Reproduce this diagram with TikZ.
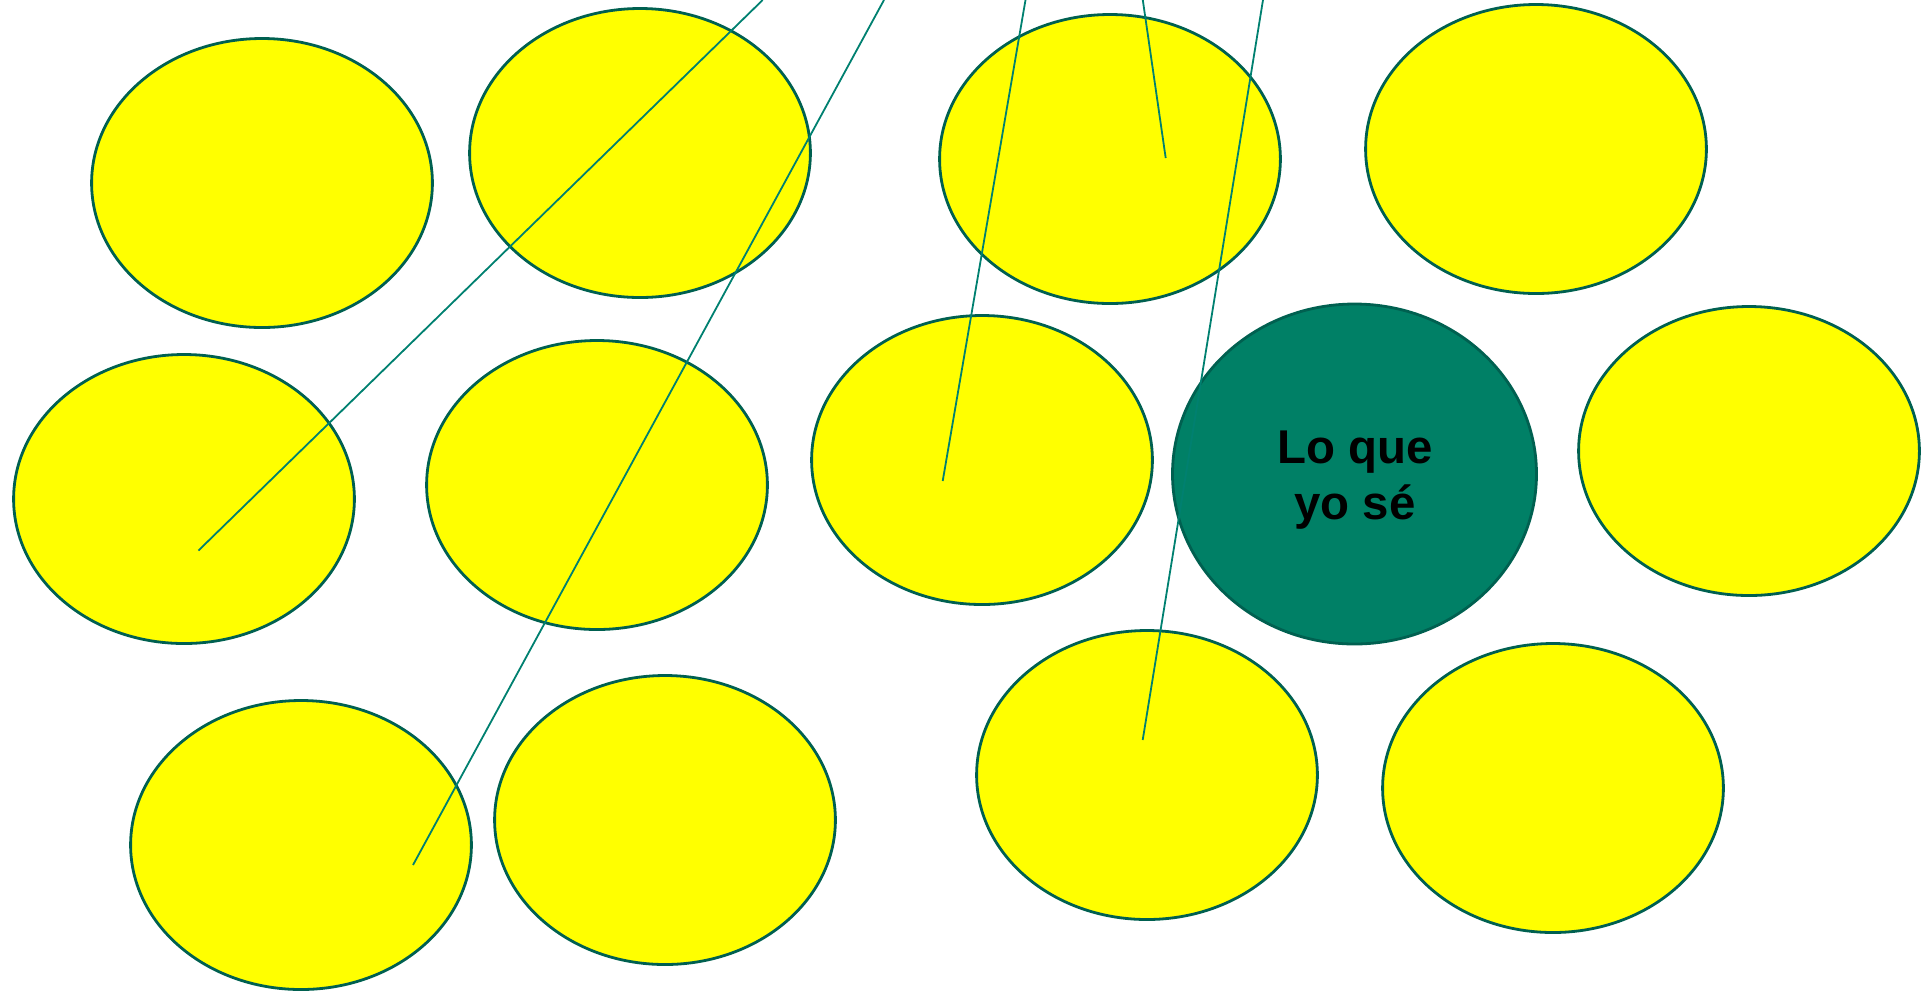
\documentclass[tikz,border=0pt]{standalone}
\usepackage{fontspec}
\setmainfont{Liberation Sans}
\usetikzlibrary{shapes.geometric}
\definecolor{edgeteal}{RGB}{0,96,80}
\definecolor{lineteal}{RGB}{0,128,112}
\definecolor{bluegreen}{RGB}{0,128,102}
\definecolor{brightyellow}{RGB}{255,255,0}
\tikzset{
  yel/.style={ellipse, draw=edgeteal, fill=brightyellow, line width=1.4pt,
    minimum width=340.8*0.5pt, minimum height=289*0.5pt, inner sep=0pt},
  grn/.style={ellipse, draw=edgeteal, fill=bluegreen, line width=1.4pt,
    minimum width=364*0.5pt, minimum height=340*0.5pt, inner sep=0pt},
  lbl/.style={font=\fontsize{23.7}{28}\selectfont\bfseries, align=center, text=black, inner sep=0pt},
  link/.style={draw=lineteal, line width=0.9pt}
}
\begin{document}
\begin{tikzpicture}[x=0.5pt,y=-0.5pt]
\useasboundingbox (0,0) rectangle (1929,993);
\node[yel] (e1) at (262,183) {};
\node[yel] (e2) at (640,153) {};
\node[yel] (e3) at (1110,159) {};
\node[yel] (e4) at (1536,149) {};
\node[yel] (e5) at (184,499) {};
\node[yel] (e6) at (597,485) {};
\node[yel] (e7) at (982,460) {};
\node[grn] (g) at (1354.5,474) {};
\node[lbl] (gtext) at (1355,480) {Lo que\\yo sé};
\node[yel] (e9) at (1749,451) {};
\node[yel] (e10) at (301,845) {};
\node[yel] (e11) at (665,820) {};
\node[yel] (e12) at (1147,775) {};
\node[yel] (e13) at (1553,788) {};
\coordinate (t1) at (762.7,0);
\coordinate (t2) at (884,0);
\coordinate (t3) at (1025.5,0);
\coordinate (t4) at (1142.8,0);
\coordinate (t5) at (1263,0);
\coordinate (b1) at (198.5,550.5);
\coordinate (b2) at (413,865);
\coordinate (b3) at (942.7,481);
\coordinate (b4) at (1165.7,158);
\coordinate (b5) at (1142.7,740);
\draw[link] (t1) -- (b1);
\draw[link] (t2) -- (b2);
\draw[link] (t3) -- (b3);
\draw[link] (t4) -- (b4);
\draw[link] (t5) -- (b5);
\end{tikzpicture}
\end{document}
